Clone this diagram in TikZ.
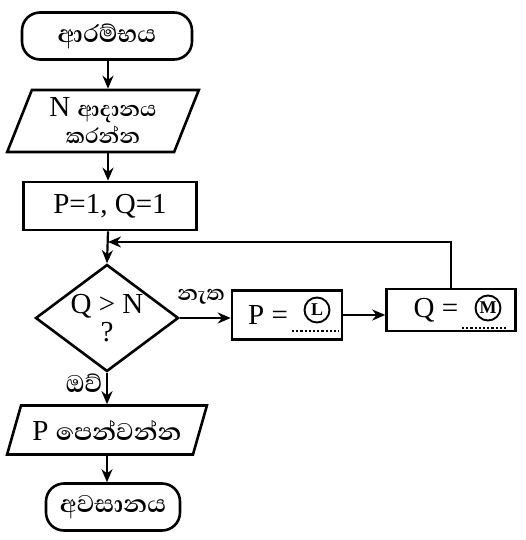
\documentclass[tikz,border=0pt]{standalone}
\usepackage{fontspec}
\setmainfont{Liberation Serif}
\newfontfamily\sinhalafont[Script=Sinhala]{Abhaya Libre}
\usetikzlibrary{shapes.geometric,arrows.meta}
\newcommand{\sntext}{\sinhalafont\bfseries\fontsize{31}{32}\selectfont}
\newcommand{\sntextsm}{\sinhalafont\bfseries\fontsize{27}{28}\selectfont}
\begin{document}
\begin{tikzpicture}[x=1pt,y=-1pt,
  every node/.style={font=\fontsize{29}{30}\selectfont},
  sn/.style={font=\sntext},
  term/.style={draw,line width=2.6pt,rounded corners=18pt,minimum width=170pt,minimum height=47pt,inner sep=2pt},
  proc/.style={draw,line width=2.6pt,inner sep=2pt},
  io/.style={draw,line width=2.6pt,trapezium,trapezium stretches=true,inner sep=0pt},
  dec/.style={draw,line width=2.6pt,diamond,aspect=1.34,minimum width=143pt,minimum height=107pt,inner sep=0pt},
  arr/.style={line width=2.2pt,-{Stealth[length=13pt,width=11pt]}},
  circ/.style={draw,circle,line width=1.9pt,inner sep=0.5pt,minimum size=25pt,font=\fontsize{18}{18}\selectfont\bfseries},
  dots/.style={line width=2.2pt,dotted}
]
\useasboundingbox (0,0) rectangle (525,540);

\node[term,sn] (start) at (107,36) {ආරම්භය};
\node[io,trapezium left angle=68,trapezium right angle=112,minimum width=192pt,minimum height=62pt,align=center] (inp) at (103,121)
  {N {\sntextsm ආදානය}\\[-3pt]{\sntextsm කරන්න}};
\node[proc,minimum width=173pt,minimum height=48pt] (init) at (110,206) {P=1, Q=1};
\node[dec,align=center] (dia) at (107,318) {Q > N\\[-2pt]?};
\node[proc,minimum width=110pt,minimum height=49pt] (pl) at (287,315) {};
\node[proc,minimum width=129pt,minimum height=42pt] (qm) at (451,310) {};
\node[io,trapezium left angle=59,trapezium right angle=121,minimum width=200pt,minimum height=49pt] (out) at (107,430)
  {P {\sntext පෙන්වන්න}};
\node[term,sn,minimum width=134pt,minimum height=47pt] (end) at (113,507) {අවසානය};

% contents of the assignment boxes
\node (ptext) at (268,315) {P =};
\node[circ] (lc) at (317,310) {L};
\coordinate (ld1) at (292,331);
\coordinate (ld2) at (339,331);
\draw[dots] (ld1) -- (ld2);
\node (qtext) at (436,310) {Q =};
\node[circ] (mc) at (488,308) {M};
\coordinate (md1) at (462,328);
\coordinate (md2) at (508,328);
\draw[dots] (md1) -- (md2);

% labels
\node[sn,font=\sntextsm] (no) at (201,297) {නැත};
\node[sn] (yes) at (84,383) {ඔව්};

% connectors
\coordinate (j) at (108,242);
\coordinate (colx) at (108,0);
\draw[arr] (start.south -| colx) -- (inp.north -| colx);
\draw[arr] (inp.south -| colx) -- (init.north -| colx);
\draw[arr] (init.south -| colx) -- (dia.north);
\draw[arr] (dia.east) -- (pl.west |- dia.east);
\draw[arr] (pl.east) -- (qm.west |- pl.east);
\draw[arr] (qm.north) |- (j);
\draw[arr] (dia.south) -- (out.north -| dia.south);
\draw[arr] (out.south -| dia.south) -- (end.north -| dia.south);
\end{tikzpicture}
\end{document}
